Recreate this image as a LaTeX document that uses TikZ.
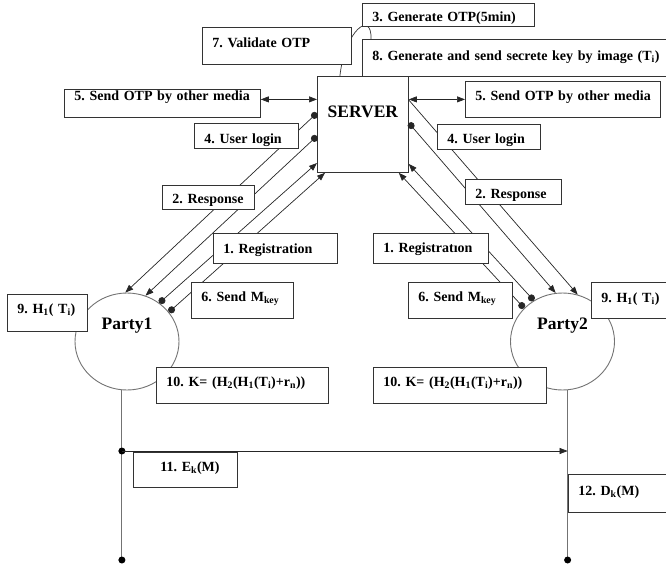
\documentclass[tikz,border=0pt]{standalone}
\usepackage{fontspec}
\setmainfont{Liberation Serif}
\usepackage{tikz}
\usetikzlibrary{shapes.geometric}
\usetikzlibrary{arrows.meta}

\tikzset{
  txtbox/.style={draw=black!80, line width=0.8pt, fill=white, anchor=north west,
    inner xsep=10pt, inner ysep=0pt, align=left,
    font=\fontsize{14}{16}\selectfont\bfseries\frenchspacing,
    execute at begin node={\mbox\bgroup}, execute at end node={\egroup}},
  party/.style={draw=black!55, line width=0.9pt, ellipse, minimum width=104pt,
    minimum height=97pt, inner sep=0pt, text height=12pt, text depth=36pt,
    font=\fontsize{17.5}{20}\selectfont\bfseries},
  msgline/.style={draw=black!85, line width=0.7pt,
    arrows={Circle[length=7pt]-Triangle[length=8pt,width=6pt]}},
  lifeline/.style={draw=black!55, line width=1pt}
}

\begin{document}
\begin{tikzpicture}[x=1pt, y=-1pt]
  \useasboundingbox (0,0) rectangle (666,567);

  % server and the two parties
  \node[draw=black!80, line width=0.8pt, anchor=north west, minimum width=91pt,
    minimum height=96pt, inner sep=0pt, text height=12pt, text depth=26pt,
    font=\fontsize{17.5}{20}\selectfont\bfseries] (server) at (317,76) {SERVER};
  \node[party] (party1) at (127,341.5) {Party1};
  \node[party] (party2) at (562.5,341.5) {Party2};

  % messages between server and party1
  \foreach \dy/\ang in {37/92, 60/68}
    \draw[msgline] ([yshift=-\dy pt]server.north west) -- (party1.\ang);
  \draw[msgline] (party1.50) -- ([yshift=-87pt]server.north west);
  \draw[msgline] (party1.35) -- ([xshift=8pt]server.south west);

  % messages between server and party2
  \draw[msgline, arrows={-Triangle[length=8pt,width=6pt]}] ([yshift=-24pt]server.north east) -- (party2.72);
  \draw[msgline] ([yshift=-47pt]server.north east) -- (party2.98);
  \draw[msgline] (party2.125) -- ([yshift=-88pt]server.north east);
  \draw[msgline] (party2.139) -- ([xshift=-10pt]server.south east);

  % validate loop
  \coordinate (loopend) at (371,39);
  \draw[black!80, line width=0.7pt] ([xshift=-23pt]server.north) .. controls (345,30) and (372,10) .. (loopend);

  % labels
  \node[txtbox, text width=152pt, text height=18pt, text depth=5pt] (otpgen) at (362,3) {3. Generate OTP(5min)};
  \node[txtbox, text width=129pt, text height=20pt, text depth=17pt] (otpval) at (202,27) {7. Validate OTP};
  \node[txtbox, text width=290pt, text height=21pt, text depth=16pt] (keygen) at (362,39) {8. Generate and send secrete key by image (T\textsubscript{i})};
  \node[txtbox, text width=176pt, text height=11pt, text depth=17pt] (mediaL) at (64,89) {5. Send OTP by other media};
  \node[txtbox, text width=175pt, text height=19pt, text depth=17pt] (mediaR) at (465,81) {5. Send OTP by other media};
  \node[txtbox, text width=84pt, text height=20pt, text depth=5pt] (loginL) at (194,123) {4. User login};
  \node[txtbox, text width=83pt, text height=19pt, text depth=6pt] (loginR) at (437,124) {4. User login};
  \node[txtbox, text width=72pt, text height=18pt, text depth=6pt] (respL) at (162,185) {2. Response};
  \node[txtbox, text width=76pt, text height=19pt, text depth=6pt] (respR) at (465,179) {2. Response};
  \node[txtbox, text width=104pt, text height=20pt, text depth=10pt] (regL) at (213,233) {1. Registration};
  \node[txtbox, text width=95pt, text height=19pt, text depth=11pt] (regR) at (373,233) {1. Registratıon};
  \node[txtbox, text width=82pt, text height=19pt, text depth=17pt] (mkeyL) at (191,282) {6. Send M\textsubscript{key}};
  \node[txtbox, text width=84pt, text height=19pt, text depth=17pt] (mkeyR) at (408,282) {6. Send M\textsubscript{key}};
  \node[txtbox, text width=60pt, text height=19pt, text depth=18pt] (hashL) at (7,294) {9. H\textsubscript{1}( T\textsubscript{i})};
  \node[txtbox, text width=60pt, text height=20pt, text depth=16pt] (hashR) at (591,282) {9. H\textsubscript{1}( T\textsubscript{i})};
  \node[txtbox, text width=152pt, text height=19pt, text depth=17pt] (keyL) at (156,367) {10. K= (H\textsubscript{2}(H\textsubscript{1}(T\textsubscript{i})+r\textsubscript{n}))};
  \node[txtbox, text width=153pt, text height=19pt, text depth=17pt] (keyR) at (373,367) {10. K= (H\textsubscript{2}(H\textsubscript{1}(T\textsubscript{i})+r\textsubscript{n}))};
  \node[txtbox, text width=84pt, text height=19pt, text depth=16pt] (encmsg) at (133,452) {\hspace*{17pt}11. E\textsubscript{k}(M)};
  \node[txtbox, text width=82pt, text height=21pt, text depth=17pt] (decmsg) at (568,474) {12. D\textsubscript{k}(M)};

  % other media
  \draw[black!85, line width=0.7pt, arrows={Triangle[length=8pt,width=6pt]-Triangle[length=8pt,width=6pt]}]
    ([yshift=4pt]mediaL.east) -- ([yshift=4pt]mediaL.east -| server.west);
  \draw[black!85, line width=0.7pt, arrows={Triangle[length=8pt,width=6pt]-Triangle[length=8pt,width=6pt]}]
    (mediaR.west -| server.east) -- (mediaR.west);

  % party time lines
  \coordinate (p1msg) at (party1.264 |- 0,451);
  \coordinate (p1end) at (party1.264 |- 0,560);
  \coordinate (p2msg) at (party2.276 |- 0,451);
  \coordinate (p2end) at (party2.276 |- 0,560);
  \draw[lifeline] (party1.264) -- (p1end);
  \draw[lifeline] (party2.276) -- (p2end);
  \foreach \c in {p1msg, p1end, p2end}
    \fill[black] (\c) circle (3.5);
  \draw[black!85, line width=0.7pt, arrows={-Triangle[length=8pt,width=6pt]}] (p1msg) -- (p2msg);
\end{tikzpicture}
\end{document}
